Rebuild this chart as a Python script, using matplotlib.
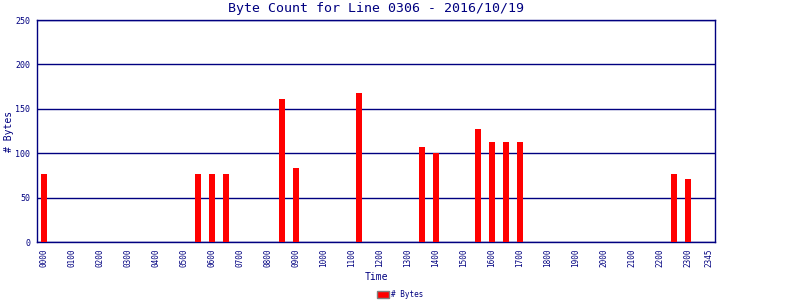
import matplotlib
matplotlib.use('Agg')
import matplotlib.pyplot as plt
from matplotlib.patches import Patch

NAVY = '#000080'

# half-hour / quarter-hour slots with traffic
times = ['0000', '0530', '0600', '0630', '0830', '0900', '1115',
         '1330', '1400', '1530', '1600', '1630', '1700', '2230', '2300']
byte_counts = [77, 77, 77, 77, 161, 83, 168,
               107, 100, 127, 113, 113, 113, 77, 71]

tick_labels = ['%02d00' % h for h in range(24)] + ['2345']


def slot(t):
    # 15-minute slot index
    return int(t[:2]) * 4 + int(t[2:]) // 15


xs = [slot(t) for t in times]
tick_pos = [slot(t) for t in tick_labels]

plt.rcParams['font.family'] = 'DejaVu Sans Mono'

fig = plt.figure(figsize=(8, 3), dpi=100)
ax = fig.add_axes([0.04625, 0.1933, 0.8475, 0.74])

ax.bar(xs, byte_counts, width=0.86, color='#ff0000', zorder=3)

ax.set_xlim(-1, 95.9)
ax.set_ylim(0, 250)
ax.set_yticks([0, 50, 100, 150, 200, 250])
ax.set_xticks(tick_pos)
ax.set_xticklabels(tick_labels, rotation=90, fontsize=5.5, color=NAVY)
ax.tick_params(axis='y', labelsize=6, colors=NAVY, length=0, pad=5)
ax.tick_params(axis='x', length=0, pad=5)
ax.grid(axis='y', color=NAVY, linewidth=1, zorder=1)

for s in ax.spines.values():
    s.set_color(NAVY)
    s.set_linewidth(1)

fig.text(0.47, 0.972, 'Byte Count for Line 0306 - 2016/10/19',
         ha='center', va='center', fontsize=9.5, color=NAVY)
fig.text(0.47, 0.077, 'Time', ha='center', va='center', fontsize=7, color=NAVY)
fig.text(0.011, 0.563, '# Bytes', ha='center', va='center', rotation=90,
         fontsize=7, color=NAVY)

fig.legend(handles=[Patch(facecolor='#ff0000', edgecolor='#808080', label='# Bytes')],
           loc='center', bbox_to_anchor=(0.5, 0.018), frameon=False,
           fontsize=5.5, handlelength=1.6, handleheight=1.0, handletextpad=0.3,
           labelcolor=NAVY)

fig.savefig('out.png', dpi=100)
